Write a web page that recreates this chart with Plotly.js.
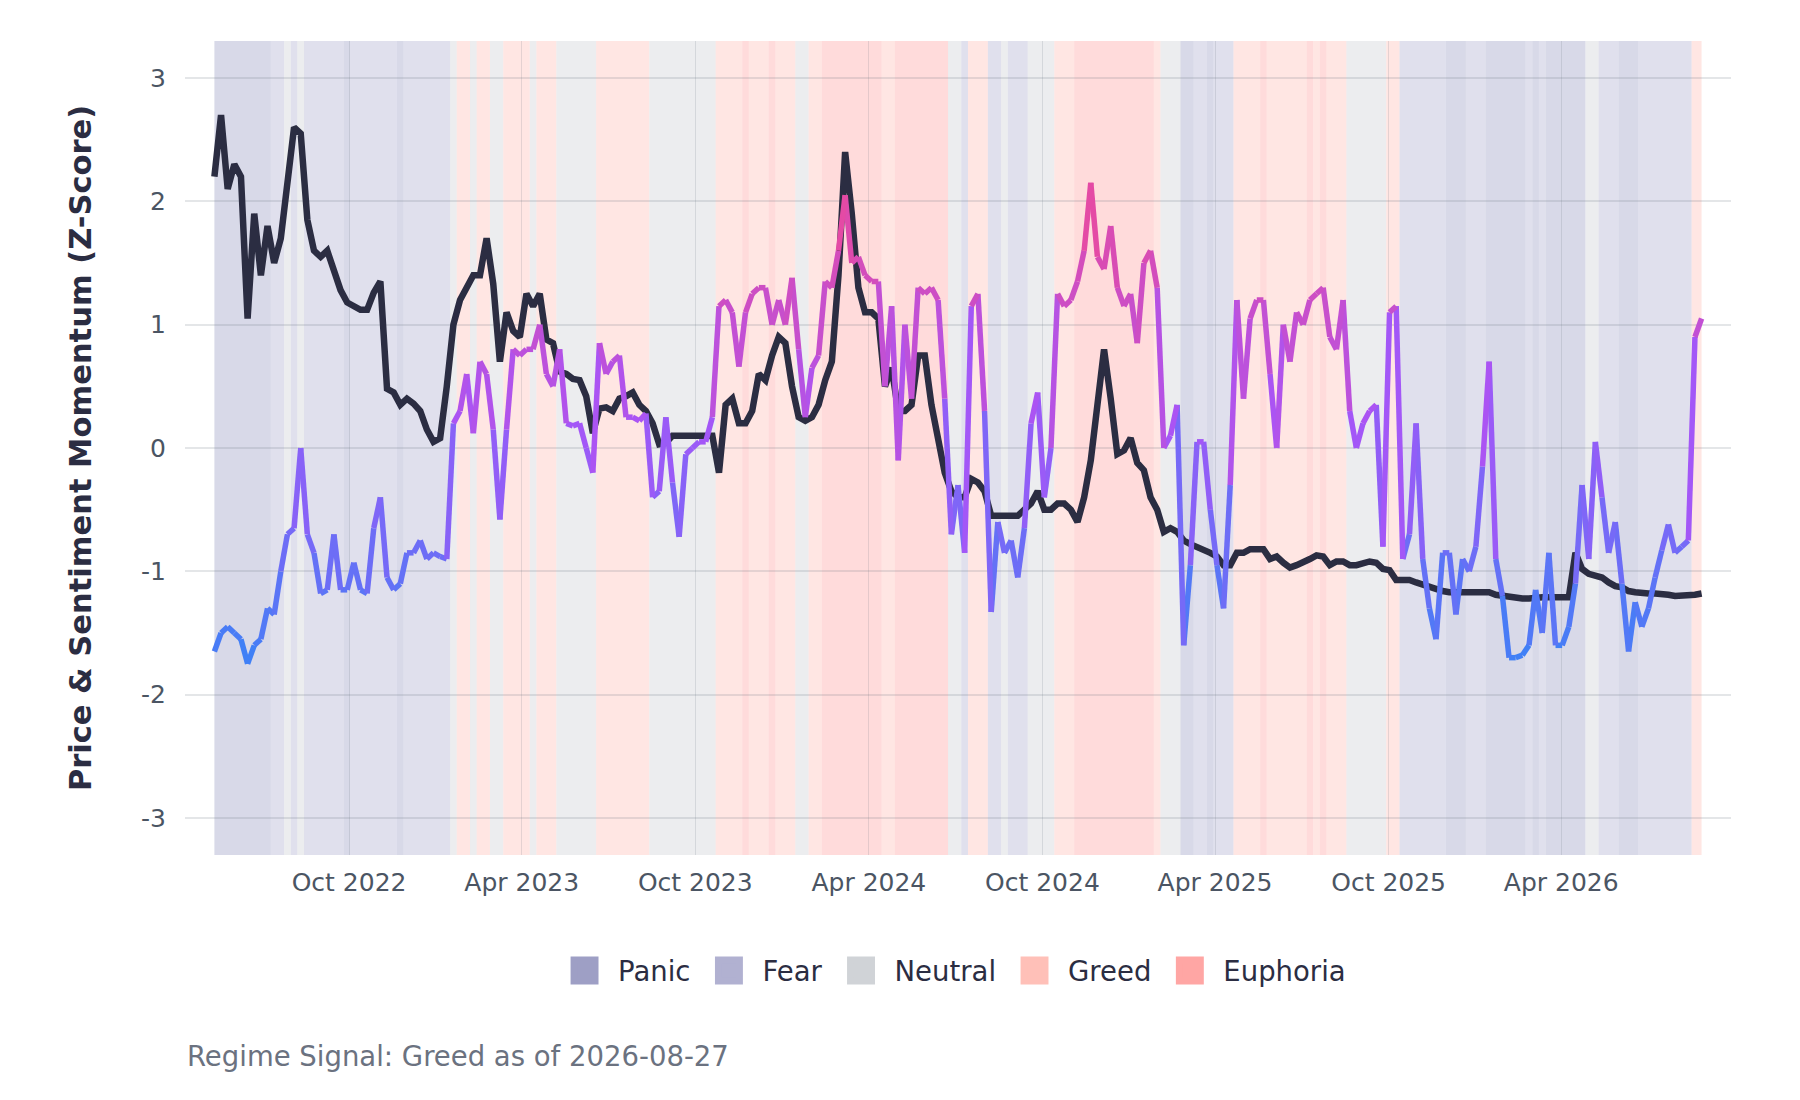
<!DOCTYPE html>
<html>
<head>
<meta charset="utf-8">
<title>Price & Sentiment Momentum</title>
<script src="https://cdn.plot.ly/plotly-3.0.1.min.js"></script>
<style>
    html, body { margin: 0; padding: 0; background: #ffffff; }
    #regimeChart { width: 1800px; height: 1100px; }
</style>
</head>
<body>
<div id="regimeChart"></div>
<script>
// Weekly samples, first one on 2022-05-12
const startDate = "2022-05-12"
const stepDays = 7

const priceMomentum = [
    2.2, 2.7, 2.1, 2.3, 2.2, 1.05, 1.9, 1.4, 1.8, 1.5,
    1.7, 2.15, 2.6, 2.55, 1.85, 1.6, 1.55, 1.6, 1.45, 1.28,
    1.18, 1.15, 1.12, 1.12, 1.26, 1.35, 0.48, 0.45, 0.35, 0.4,
    0.36, 0.3, 0.15, 0.05, 0.08, 0.5, 1.0, 1.2, 1.3, 1.4,
    1.4, 1.7, 1.33, 0.7, 1.1, 0.95, 0.9, 1.25, 1.15, 1.25,
    0.88, 0.85, 0.62, 0.6, 0.56, 0.55, 0.42, 0.12, 0.32, 0.33,
    0.3, 0.4, 0.42, 0.45, 0.35, 0.3, 0.2, 0.03, 0.04, 0.1,
    0.1, 0.1, 0.1, 0.1, 0.1, 0.1, -0.2, 0.35, 0.4, 0.2,
    0.2, 0.3, 0.6, 0.55, 0.75, 0.9, 0.85, 0.5, 0.25, 0.22,
    0.25, 0.35, 0.55, 0.7, 1.4, 2.4, 1.9, 1.3, 1.1, 1.1,
    1.05, 0.5, 0.65, 0.3, 0.3, 0.35, 0.75, 0.75, 0.35, 0.08,
    -0.2, -0.35, -0.4, -0.4, -0.25, -0.28, -0.35, -0.55, -0.55, -0.55,
    -0.55, -0.55, -0.5, -0.45, -0.35, -0.5, -0.5, -0.45, -0.45, -0.5,
    -0.6, -0.4, -0.1, 0.4, 0.8, 0.4, -0.05, -0.02, 0.08, -0.12,
    -0.18, -0.4, -0.5, -0.68, -0.65, -0.68, -0.75, -0.78, -0.8, -0.82,
    -0.85, -0.88, -0.95, -0.95, -0.85, -0.85, -0.82, -0.82, -0.82, -0.9,
    -0.88, -0.93, -0.97, -0.95, -0.93, -0.9, -0.87, -0.88, -0.95, -0.92,
    -0.92, -0.95, -0.95, -0.94, -0.92, -0.93, -0.98, -0.99, -1.07, -1.07,
    -1.07, -1.09, -1.11, -1.13, -1.15, -1.16, -1.17, -1.17, -1.17, -1.17,
    -1.16, -1.16, -1.17, -1.19, -1.2, -1.2, -1.21, -1.22, -1.22, -1.21,
    -1.21, -1.21, -1.21, -1.22, -1.21, -0.85, -0.98, -1.02, -1.04, -1.05,
    -1.09, -1.12, -1.13, -1.16, -1.17, -1.18, -1.18, -1.18, -1.18, -1.19,
    -1.2, -1.2, -1.2, -1.19, -1.18
]

const sentimentMomentum = [
    -1.65, -1.5, -1.45, -1.5, -1.55, -1.75, -1.6, -1.55, -1.3, -1.35,
    -1.0, -0.7, -0.65, 0.0, -0.7, -0.85, -1.18, -1.15, -0.7, -1.15,
    -1.15, -0.93, -1.15, -1.18, -0.65, -0.4, -1.05, -1.15, -1.1, -0.85,
    -0.85, -0.75, -0.9, -0.85, -0.88, -0.9, 0.2, 0.3, 0.6, 0.12,
    0.7, 0.6, 0.15, -0.58, 0.15, 0.8, 0.75, 0.8, 0.8, 1.0,
    0.6, 0.5, 0.8, 0.2, 0.18, 0.2, 0.0, -0.2, 0.85, 0.6,
    0.7, 0.75, 0.25, 0.25, 0.22, 0.28, -0.4, -0.35, 0.25, -0.28,
    -0.72, -0.05, 0.0, 0.05, 0.05, 0.25, 1.15, 1.2, 1.1, 0.66,
    1.1, 1.25, 1.3, 1.3, 1.0, 1.2, 1.0, 1.38, 0.8, 0.25,
    0.65, 0.75, 1.35, 1.3, 1.6, 2.05, 1.5, 1.55, 1.4, 1.35,
    1.35, 0.5, 1.15, -0.1, 1.0, 0.4, 1.3, 1.25, 1.3, 1.2,
    0.4, -0.7, -0.3, -0.85, 1.15, 1.25, 0.3, -1.33, -0.6, -0.85,
    -0.75, -1.05, -0.65, 0.2, 0.45, -0.4, 0.0, 1.25, 1.15, 1.2,
    1.35, 1.6, 2.15, 1.55, 1.45, 1.8, 1.3, 1.15, 1.25, 0.85,
    1.5, 1.6, 1.3, 0.0, 0.1, 0.35, -1.6, -0.95, 0.05, 0.05,
    -0.5, -0.95, -1.3, -0.3, 1.2, 0.4, 1.05, 1.2, 1.2, 0.6,
    0.0, 1.0, 0.7, 1.1, 1.0, 1.2, 1.25, 1.3, 0.9, 0.8,
    1.2, 0.3, 0.0, 0.2, 0.3, 0.35, -0.8, 1.1, 1.15, -0.9,
    -0.7, 0.2, -0.9, -1.3, -1.55, -0.85, -0.85, -1.35, -0.9, -1.0,
    -0.8, -0.15, 0.7, -0.9, -1.2, -1.7, -1.7, -1.68, -1.6, -1.15,
    -1.5, -0.85, -1.6, -1.6, -1.45, -1.1, -0.3, -0.9, 0.05, -0.4,
    -0.85, -0.6, -1.1, -1.65, -1.25, -1.45, -1.3, -1.05, -0.83, -0.62,
    -0.85, -0.8, -0.75, 0.9, 1.05
]

// regime per run of weeks: [regime, number of weeks]
const regimeRuns = [
    ["Panic", 9], ["Fear", 2], ["Neutral", 1], ["Fear", 1], ["Neutral", 1], ["Fear", 6],
    ["Panic", 1], ["Fear", 7], ["Panic", 1], ["Fear", 7], ["Neutral", 1], ["Greed", 2],
    ["Neutral", 1], ["Greed", 2], ["Neutral", 2], ["Greed", 4], ["Neutral", 1], ["Greed", 3],
    ["Neutral", 6], ["Greed", 8], ["Neutral", 10], ["Greed", 4], ["Euphoria", 1], ["Greed", 3],
    ["Euphoria", 1], ["Greed", 3], ["Neutral", 2], ["Greed", 2], ["Euphoria", 9], ["Greed", 2],
    ["Euphoria", 8], ["Neutral", 2], ["Fear", 1], ["Greed", 3], ["Fear", 2], ["Neutral", 1],
    ["Fear", 3], ["Neutral", 4], ["Greed", 3], ["Euphoria", 12], ["Greed", 1], ["Neutral", 3],
    ["Panic", 2], ["Fear", 2], ["Panic", 1], ["Fear", 3], ["Greed", 4], ["Euphoria", 1],
    ["Greed", 6], ["Euphoria", 1], ["Greed", 1], ["Euphoria", 1], ["Greed", 3], ["Neutral", 6],
    ["Greed", 2], ["Fear", 7], ["Panic", 3], ["Fear", 3], ["Panic", 6], ["Fear", 1],
    ["Panic", 1], ["Fear", 1], ["Panic", 6], ["Neutral", 2], ["Fear", 3], ["Panic", 3],
    ["Fear", 8], ["Greed", 2]
]

const regimeNames = ["Panic", "Fear", "Neutral", "Greed", "Euphoria"]
const regimeColors = ["#9e9fc5", "#b1b1d1", "#d0d3d7", "#ffc0b8", "#ffa6a4"]

const sentimentStops = ["#3b82f6", "#a855f7", "#ec4899"]

const DAY = 86400000
const t0 = Date.parse(startDate + "T00:00:00Z")
const times = priceMomentum.map((_, i) => t0 + i * stepDays * DAY)
const dates = times.map(t => new Date(t).toISOString().slice(0, 10))

function hexToRgb(h) {
    return [1, 3, 5].map(i => parseInt(h.slice(i, i + 2), 16))
}

function sentimentColor(frac) {
    const pos = Math.max(0, Math.min(1, frac)) * (sentimentStops.length - 1)
    const i = Math.min(sentimentStops.length - 2, Math.floor(pos))
    const f = pos - i
    const a = hexToRgb(sentimentStops[i])
    const b = hexToRgb(sentimentStops[i + 1])
    const c = a.map((v, j) => Math.round(v + (b[j] - v) * f))
    return `rgb(${c[0]},${c[1]},${c[2]})`
}

// sentiment line coloured by level: one trace per colour bin
const sMin = Math.min(...sentimentMomentum)
const sMax = Math.max(...sentimentMomentum)
const nBins = 24
const bins = Array.from({ length: nBins }, () => ({ x: [], y: [] }))
for (let i = 0; i < sentimentMomentum.length - 1; i++) {
    const mid = (sentimentMomentum[i] + sentimentMomentum[i + 1]) / 2
    const b = Math.min(nBins - 1, Math.floor((mid - sMin) / (sMax - sMin) * nBins))
    bins[b].x.push(dates[i], dates[i + 1], null)
    bins[b].y.push(sentimentMomentum[i], sentimentMomentum[i + 1], null)
}

const sentimentTraces = bins.map((bin, b) => ({
    x: bin.x,
    y: bin.y,
    type: "scatter",
    mode: "lines",
    line: { color: sentimentColor((b + 0.5) / nBins), width: 5.5 },
    connectgaps: false,
    hoverinfo: "skip",
    showlegend: false,
}))

const priceTrace = {
    x: dates,
    y: priceMomentum,
    type: "scatter",
    mode: "lines",
    line: { color: "#2b2d42", width: 6.5 },
    name: "Price Momentum",
    showlegend: false,
}

// legend only entries for the regimes
const legendTraces = regimeNames.map((name, i) => ({
    x: [null],
    y: [null],
    type: "scatter",
    mode: "markers",
    name: name,
    marker: { symbol: "square", size: 16, color: regimeColors[i], line: { color: regimeColors[i], width: 5 } },
}))

// background bands
const shapes = []
let k = 0
regimeRuns.forEach(([name, weeks]) => {
    const first = k
    const last = k + weeks - 1
    const x0 = Math.max(times[0], times[first] - stepDays * DAY / 2)
    const x1 = Math.min(times[times.length - 1], times[last] + stepDays * DAY / 2)
    shapes.push({
        type: "rect",
        xref: "x",
        yref: "paper",
        x0: x0,
        x1: x1,
        y0: 0,
        y1: 1,
        fillcolor: regimeColors[regimeNames.indexOf(name)],
        opacity: 0.4,
        line: { width: 0 },
        layer: "below",
    })
    k += weeks
})

const lastRegime = regimeRuns[regimeRuns.length - 1][0]
const lastDate = dates[dates.length - 1]

const gridColor = "rgba(107,114,128,0.18)"
const yTicks = [-3, -2, -1, 0, 1, 2, 3]

const layout = {
    width: 1800,
    height: 1100,
    autosize: false,
    paper_bgcolor: "#ffffff",
    plot_bgcolor: "#ffffff",
    font: { family: "DejaVu Sans, sans-serif", color: "#4b5563", size: 25 },
    margin: { l: 185, r: 69, t: 41, b: 245 },
    xaxis: {
        type: "date",
        range: [times[0] - 31 * DAY, times[times.length - 1] + 31 * DAY],
        tick0: "2022-10-01",
        dtick: "M6",
        tickformat: "%b %Y",
        tickfont: { size: 25, color: "#4b5563" },
        ticks: "outside",
        ticklen: 5,
        tickcolor: "rgba(0,0,0,0)",
        showgrid: true,
        gridcolor: gridColor,
        gridwidth: 1,
        zeroline: false,
        showline: false,
    },
    yaxis: {
        range: [-3.3, 3.3],
        tickvals: yTicks,
        ticktext: yTicks.map(String),
        tickfont: { size: 25, color: "#4b5563" },
        ticks: "outside",
        ticklen: 13,
        tickcolor: "rgba(0,0,0,0)",
        showgrid: true,
        gridcolor: gridColor,
        gridwidth: 2,
        zeroline: false,
        showline: false,
        title: {
            text: "Price & Sentiment Momentum (Z-Score)",
            font: { size: 30.5, color: "#2b2d42", weight: 700 },
            standoff: 40,
        },
    },
    legend: {
        orientation: "h",
        x: 0.4955,
        xanchor: "center",
        y: -0.142,
        yanchor: "middle",
        font: { size: 27.5, color: "#2b2d42" },
        itemsizing: "trace",
        itemwidth: 57,
        bgcolor: "rgba(0,0,0,0)",
    },
    shapes: shapes,
    annotations: [{
        text: `Regime Signal: ${lastRegime} as of ${lastDate}`,
        xref: "paper",
        yref: "paper",
        x: 0,
        y: -0.247,
        xanchor: "left",
        yanchor: "middle",
        showarrow: false,
        font: { size: 27.5, color: "#6b7280" },
    }],
    hovermode: "closest",
}

const config = { responsive: false, displayModeBar: false, staticPlot: true }

Plotly.newPlot("regimeChart", [...legendTraces, priceTrace, ...sentimentTraces], layout, config).then(gd => {
    // legend swatches are capped at 16px by plotly, blow them up to match the bands legend
    gd.querySelectorAll(".legend .legendpoints path").forEach(p => {
        p.setAttribute("transform", (p.getAttribute("transform") || "") + " scale(1.33)")
    })
})
</script>
</body>
</html>
